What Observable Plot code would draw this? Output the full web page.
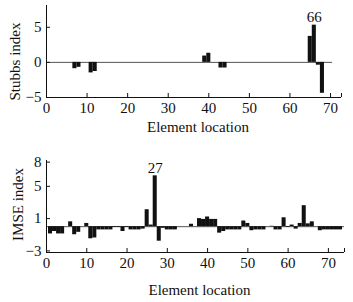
<!DOCTYPE html>
<html><head><meta charset="utf-8">
<script src="https://cdn.jsdelivr.net/npm/d3@7"></script>
<script src="https://cdn.jsdelivr.net/npm/@observablehq/plot@0.6"></script>
<style>
body{margin:0;background:#fff}
#c{position:relative;width:353px;height:302px}
#c > *{position:absolute;left:0}
</style>
</head><body><div id="c"></div>
<script>
// Top panel: Stubbs index (non-zero elements only)
const stubbsElements = [7, 8, 11, 12, 39, 40, 43, 44, 65, 66, 67, 68];
const stubbsValues  = [-0.9, -0.7, -1.5, -1.3, 0.9, 1.3, -0.8, -0.8, 3.7, 5.3, -0.4, -4.4];
const stubbsPeak = 66;
const stubbsTicks = [-5, 0, 5];

// Bottom panel: IMSE index, elements 1..73
const imseElements = d3.range(1, 74);
const imseValues = [
  -0.9, -0.6, -0.9, -0.9, 0, 0.6, -1.0, -0.7, 0, 0.4,
  -1.5, -1.4, -0.4, -0.4, -0.4, -0.4, -0.1, -0.1, -0.6, -0.1,
  -0.4, -0.4, -0.4, -0.3, 2.1, 0.2, 6.3, -1.8, -0.2, -0.4,
  -0.4, -0.4, 0, 0, 0, 0.3, 0, 1.0, 0.9, 1.2,
  0.9, 0.9, -0.8, -0.6, -0.4, -0.4, -0.4, -0.4, 0.7, 0.4,
  -0.5, -0.4, -0.4, -0.4, 0, 0.05, -0.4, -0.4, 1.1, -0.1,
  0.2, -0.3, 0.4, 2.6, 0.35, 0.6, 0, -0.5, -0.4, -0.4,
  -0.4, -0.4, -0.4
];
const imsePeak = 27;
const imseTicks = [-3, 1, 5, 8];

const xTicks = [0, 10, 20, 30, 40, 50, 60, 70];
const xLabel = "Element location";

function panel({elements, values, peak, yTicks, yDomain, xDomain, zeroEnd, height, marginTop, marginBottom, marginRight, yLabel, yLabelDx, yLabelDy, xLabelDy}) {
  const data = elements.map((e, i) => ({e, v: values[i]}));
  const peakRow = data.filter(d => d.e === peak);
  const font = {fontFamily: "Liberation Serif", fontSize: 15, fill: "#111"};
  return Plot.plot({
    width: 353, height,
    marginLeft: 46, marginRight, marginTop, marginBottom,
    style: {fontFamily: "Liberation Serif", fontSize: "15px", color: "#111", background: "#fff"},
    x: {domain: xDomain},
    y: {domain: yDomain},
    marks: [
      Plot.ruleY([0], {x1: xDomain[0], x2: zeroEnd, stroke: "#555", strokeWidth: 1}),
      Plot.rectY(data, {x1: d => d.e - 0.5, x2: d => d.e + 0.5, y1: 0, y2: "v", fill: "#111", inset: 0}),
      // axis lines
      Plot.ruleX([xDomain[0]], {y1: yDomain[0], y2: yDomain[1], stroke: "#111"}),
      Plot.ruleY([yDomain[0]], {x1: xDomain[0], x2: xDomain[1], stroke: "#111"}),
      // inward ticks
      Plot.ruleX(xTicks.concat([xDomain[1]]), {x: d => d, y1: yDomain[0], y2: yDomain[0], insetTop: -4, stroke: "#111"}),
      Plot.ruleY(yTicks, {y: d => d, x1: xDomain[0], x2: xDomain[0], insetRight: -4, stroke: "#111"}),
      Plot.axisX(xTicks, {tickSize: 0, tickPadding: 5, label: null, fontSize: 15}),
      Plot.axisY(yTicks, {tickSize: 0, tickPadding: 5, label: null, fontSize: 15, tickFormat: d => d < 0 ? "\u2212" + Math.abs(d) : String(d)}),
      Plot.text(peakRow, {x: "e", y: "v", text: d => String(d.e), lineAnchor: "bottom", dy: -3, ...font}),
      Plot.text([yLabel], {frameAnchor: "left", dx: yLabelDx, dy: yLabelDy, rotate: -90, textAnchor: "middle", lineAnchor: "middle", ...font}),
      Plot.text([xLabel], {frameAnchor: "bottom", dx: 4, dy: xLabelDy, textAnchor: "middle", lineAnchor: "middle", ...font})
    ]
  });
}

const topPanel = panel({
  elements: stubbsElements, values: stubbsValues, peak: stubbsPeak,
  yTicks: stubbsTicks, yDomain: [-5, 8.1], xDomain: [0, 72.7], zeroEnd: 70.5,
  height: 150, marginTop: 5, marginBottom: 53, marginRight: 12,
  yLabel: "Stubbs index", yLabelDx: -31, yLabelDy: 10, xLabelDy: 30
});
const bottomPanel = panel({
  elements: imseElements, values: imseValues, peak: imsePeak,
  yTicks: imseTicks, yDomain: [-3.2, 8.2], xDomain: [0, 74], zeroEnd: 74,
  height: 152, marginTop: 10, marginBottom: 50, marginRight: 9,
  yLabel: "IMSE index", yLabelDx: -28, yLabelDy: -2, xLabelDy: 38
});
topPanel.style.top = "0px";
bottomPanel.style.top = "150px";
document.getElementById("c").append(topPanel, bottomPanel);
</script>
</body></html>
